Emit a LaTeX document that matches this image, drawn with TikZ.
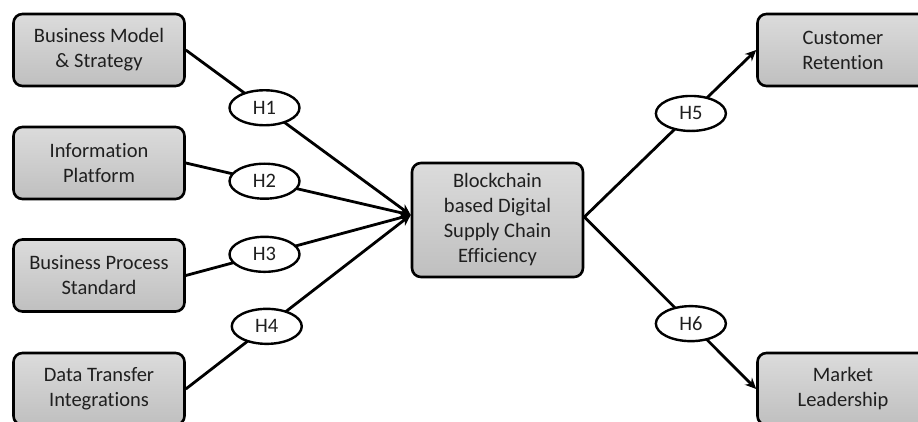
\documentclass[tikz,border=0pt]{standalone}
\usepackage{fontspec}
\setmainfont{Carlito}[Ligatures={NoCommon}]
\usetikzlibrary{arrows.meta,shapes.geometric}
\tikzset{
  box/.style={draw=black, line width=2.6pt, rounded corners=9pt, top color=gray!28, bottom color=gray!50,
    minimum width=171pt, minimum height=72pt, align=center, inner sep=2pt, text=black!88,
    font=\fontsize{20.5}{25}\selectfont},
  hyp/.style={ellipse, draw=black, line width=2.4pt, fill=white, minimum width=70pt, minimum height=35pt,
    inner sep=0pt, text=black!88, font=\fontsize{20.5}{25}\selectfont},
  link/.style={line width=2.8pt},
  arr/.style={link, -{Stealth[length=11pt,width=10pt]}}
}
\begin{document}
\begin{tikzpicture}[x=1pt,y=1pt]
\useasboundingbox (0,0) rectangle (918,421);
\clip (0,0) rectangle (918,421);
\node[box] (b1) at (99,371) {Business Model\\\& Strategy};
\node[box] (b2) at (99,258) {Information\\Platform};
\node[box] (b3) at (99,145.5) {Business Process\\Standard};
\node[box] (b4) at (99,32) {Data Transfer\\Integrations};
\node[box, minimum height=114pt] (c) at (497.5,201) {Blockchain\\based Digital\\Supply Chain\\Efficiency};
\node[box] (r1) at (843,371) {Customer\\Retention};
\node[box] (r2) at (843,32) {Market\\Leadership};
\coordinate (cin) at ([yshift=5pt]c.west);
\coordinate (cout) at ([yshift=3pt]c.east);
\draw[arr] (b1.east) -- node[hyp, pos=0.35] (h1) {H1} (cin);
\draw[arr] (b2.east) -- node[hyp, pos=0.35] (h2) {H2} (cin);
\draw[arr] (b3.east) -- node[hyp, pos=0.35] (h3) {H3} (cin);
\draw[arr] (b4.east) -- node[hyp, pos=0.36] (h4) {H4} (cin);
\draw[arr] (cout) -- node[hyp, pos=0.62] (h5) {H5} (r1.west);
\draw[arr] (cout) -- node[hyp, pos=0.62] (h6) {H6} (r2.west);
\end{tikzpicture}
\end{document}
